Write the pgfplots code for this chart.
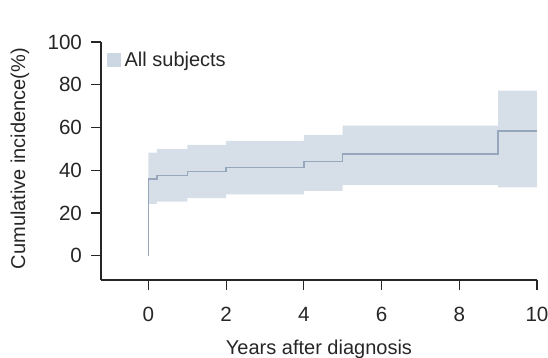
\documentclass[border=0pt]{standalone}
\usepackage{fontspec}
\setmainfont{Liberation Sans}
\usepackage{pgfplots}
\pgfplotsset{compat=1.18}
\usepgfplotslibrary{fillbetween}
\definecolor{bandc}{HTML}{D6DEE8}
\definecolor{patchc}{HTML}{CDD6E3}
\definecolor{linec}{HTML}{97A7BB}
\begin{document}
\fontsize{10}{12}\selectfont
\begin{tikzpicture}
\begin{axis}[
  at={(0,0)}, anchor=south west,
  scale only axis, width=218pt, height=119pt,
  xmin=-1.22, xmax=10, ymin=-11.4, ymax=100,
  axis lines*=left,
  axis line style={black!85, line width=0.6pt},
  tick align=outside, major tick length=5pt,
  tick style={black!85, line width=0.6pt},
  xtick={0,2,4,6,8,10}, ytick={0,20,40,60,80,100},
  minor tick num=0,
  /pgf/number format/assume math mode=true,
  ticklabel style={font=\fontsize{10.3}{12}\selectfont, text=black!85},
  xticklabel style={yshift=-5pt},
  yticklabel style={xshift=-1pt},
  xlabel={Years after diagnosis},
  ylabel={Cumulative incidence(\%)},
  label style={font=\fontsize{10}{12}\selectfont, text=black!85},
  xlabel style={at={(axis description cs:0.5,-0.29)}, anchor=center},
  ylabel style={at={(axis description cs:-0.186,0.51)}, anchor=center},
  legend style={at={(axis description cs:0.012,0.975)}, anchor=north west, draw=none, fill=none,
    font=\fontsize{10}{12}\selectfont, text=black!85, inner sep=0pt, row sep=0pt},
  legend cell align=left,
  clip=false,
]
\addplot[name path=up, draw=none, const plot, forget plot] coordinates {
 (0,48.2) (0.22,49.8) (1,51.8) (2,53.7) (4,56.5) (5,60.8) (9,77.2) (10,77.2)};
\addplot[name path=lo, draw=none, const plot, forget plot] coordinates {
 (0,24.2) (0.22,25.3) (1,26.9) (2,28.7) (4,30.3) (5,33.0) (9,32.0) (10,32.0)};
\addplot[fill=bandc, draw=none, area legend,
  legend image code/.code={\fill[patchc] (0pt,-3.2pt) rectangle (7pt,3.8pt);}]
  fill between[of=up and lo];
\addlegendentry{All subjects}
\addplot[linec, line width=0.7pt, const plot, forget plot] coordinates {
 (0,0) (0,35.9) (0.22,37.4) (1,39.3) (2,41.2) (4,44.0) (5,47.6) (9,58.4) (10,58.4)};
\end{axis}
\pgfresetboundingbox
\path (-50.5pt,-39pt) rectangle (223.5pt,140pt);
\end{tikzpicture}
\end{document}
